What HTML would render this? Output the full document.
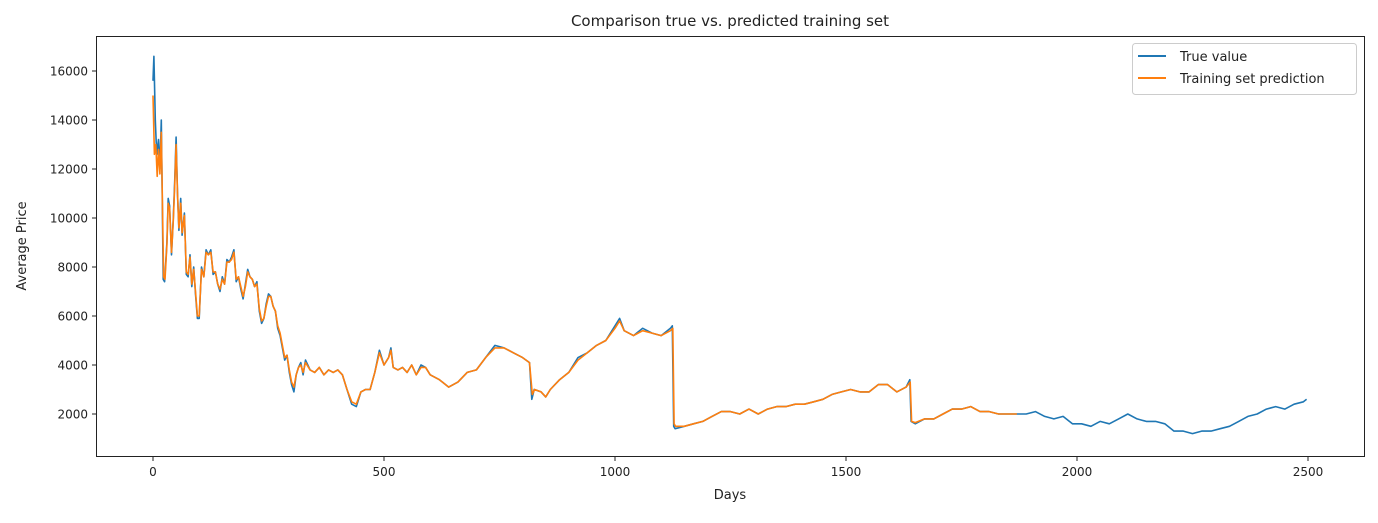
<!DOCTYPE html>
<html><head><meta charset="utf-8"><style>
body{margin:0;background:#fff;font-family:"Liberation Sans","DejaVu Sans",sans-serif}
svg text{font-family:"DejaVu Sans","Liberation Sans",sans-serif;fill:#222}
</style></head><body>
<svg id="chart" width="1378" height="518" viewBox="0 0 1378 518" xmlns="http://www.w3.org/2000/svg">
<text x="730" y="26" font-size="15" text-anchor="middle">Comparison true vs. predicted training set</text>
<g id="plot"></g>
<rect x="96.5" y="36.5" width="1268" height="420" fill="none" stroke="#222" stroke-width="1"/>
<text x="730" y="499" font-size="13" text-anchor="middle">Days</text>
<text transform="translate(26,246) rotate(-90)" font-size="13" text-anchor="middle">Average Price</text>
<g>
<rect x="1132.5" y="43.5" width="224" height="51" rx="3" fill="#fff" fill-opacity="0.8" stroke="#ccc"/>
<line x1="1138" y1="56" x2="1166" y2="56" stroke="#1f77b4" stroke-width="2"/>
<text x="1180" y="61" font-size="13">True value</text>
<line x1="1138" y1="78" x2="1166" y2="78" stroke="#ff7f0e" stroke-width="2"/>
<text x="1180" y="83" font-size="13">Training set prediction</text>
</g>
</svg>
<script>
const xTicks=[0,500,1000,1500,2000,2500];
const yTicks=[2000,4000,6000,8000,10000,12000,14000,16000];
const trueDays=[0,2,5,8,12,15,18,20,22,25,30,33,36,40,44,47,50,53,56,60,63,68,72,76,80,84,88,92,96,100,105,110,115,120,125,130,135,140,145,150,155,160,165,170,175,180,185,190,195,200,205,210,215,220,225,230,235,240,245,250,255,260,265,270,275,280,285,290,295,300,305,310,315,320,325,330,340,350,360,370,380,390,400,410,420,430,440,450,460,470,480,490,500,510,515,520,530,540,550,560,570,580,590,600,620,640,660,680,700,720,740,760,780,800,815,820,825,840,850,860,880,900,920,940,960,980,1000,1010,1020,1040,1060,1080,1100,1120,1124,1127,1130,1150,1170,1190,1210,1230,1250,1270,1290,1310,1330,1350,1370,1390,1410,1430,1450,1470,1490,1510,1530,1550,1570,1590,1610,1630,1638,1641,1650,1670,1690,1710,1730,1750,1770,1790,1810,1830,1850,1870,1890,1910,1930,1950,1970,1990,2010,2030,2050,2070,2090,2110,2130,2150,2170,2190,2210,2230,2250,2270,2290,2310,2330,2350,2370,2390,2410,2430,2450,2470,2490,2497];
const trueVals=[15600,16600,14000,12600,13200,12000,14000,11000,7500,7400,9000,10800,10500,8500,10000,11500,13300,11000,9500,10800,9300,10200,7700,7600,8500,7200,8000,6900,5900,5900,8000,7600,8700,8500,8700,7700,7800,7300,7000,7600,7300,8300,8200,8400,8700,7400,7600,7100,6700,7300,7900,7600,7500,7200,7400,6200,5700,5900,6500,6900,6800,6400,6200,5500,5200,4700,4200,4400,3700,3200,2900,3600,3900,4100,3600,4200,3800,3700,3900,3600,3800,3700,3800,3600,3000,2400,2300,2900,3000,3000,3700,4600,4000,4300,4700,3900,3800,3900,3700,4000,3600,4000,3900,3600,3400,3100,3300,3700,3800,4300,4800,4700,4500,4300,4100,2600,3000,2900,2700,3000,3400,3700,4300,4500,4800,5000,5600,5900,5400,5200,5500,5300,5200,5500,5600,1500,1400,1500,1600,1700,1900,2100,2100,2000,2200,2000,2200,2300,2300,2400,2400,2500,2600,2800,2900,3000,2900,2900,3200,3200,2900,3100,3400,1700,1600,1800,1800,2000,2200,2200,2300,2100,2100,2000,2000,2000,2000,2100,1900,1800,1900,1600,1600,1500,1700,1600,1800,2000,1800,1700,1700,1600,1300,1300,1200,1300,1300,1400,1500,1700,1900,2000,2200,2300,2200,2400,2500,2600];
const predDays=[0,3,6,9,12,15,18,20,23,26,30,33,36,40,44,47,50,53,56,60,63,68,72,76,80,84,88,92,96,100,105,110,115,120,125,130,135,140,145,150,155,160,165,170,175,180,185,190,195,200,205,210,215,220,225,230,235,240,245,250,255,260,265,270,275,280,285,290,295,300,305,310,315,320,325,330,340,350,360,370,380,390,400,410,420,430,440,450,460,470,480,490,500,510,515,520,530,540,550,560,570,580,590,600,620,640,660,680,700,720,740,760,780,800,815,821,826,840,850,860,880,900,920,940,960,980,1000,1010,1020,1040,1060,1080,1100,1120,1125,1128,1131,1150,1170,1190,1210,1230,1250,1270,1290,1310,1330,1350,1370,1390,1410,1430,1450,1470,1490,1510,1530,1550,1570,1590,1610,1630,1639,1642,1650,1670,1690,1710,1730,1750,1770,1790,1810,1830,1850,1870];
const predVals=[15000,12600,13000,11700,12800,11800,13500,11200,7600,7500,8900,10600,10400,8600,9900,11300,13000,11000,9600,10600,9400,10100,7800,7700,8400,7300,7900,7000,6000,6000,7900,7600,8600,8500,8600,7800,7800,7300,7100,7500,7300,8200,8200,8300,8600,7500,7600,7200,6800,7200,7800,7600,7500,7200,7300,6300,5800,5900,6400,6800,6800,6400,6200,5600,5300,4800,4300,4400,3800,3300,3100,3600,3900,4000,3700,4100,3800,3700,3900,3600,3800,3700,3800,3600,3000,2500,2400,2900,3000,3000,3700,4500,4000,4300,4600,3900,3800,3900,3700,4000,3600,3900,3900,3600,3400,3100,3300,3700,3800,4300,4700,4700,4500,4300,4100,2800,3000,2900,2700,3000,3400,3700,4200,4500,4800,5000,5500,5800,5400,5200,5400,5300,5200,5400,5500,1600,1500,1500,1600,1700,1900,2100,2100,2000,2200,2000,2200,2300,2300,2400,2400,2500,2600,2800,2900,3000,2900,2900,3200,3200,2900,3100,3300,1700,1650,1800,1800,2000,2200,2200,2300,2100,2100,2000,2000,2000];
const X0=153, XS=231/500, YB=414, YS=49/2000;
function xs(d){return X0+d*XS}
function ys(v){return YB-(v-2000)*YS}
const NS='http://www.w3.org/2000/svg';
const plot=document.getElementById('plot');
function mk(t,a){const e=document.createElementNS(NS,t);for(const k in a)e.setAttribute(k,a[k]);return e}
xTicks.forEach(t=>{
  const g=mk('g',{});
  
  
  g.appendChild(mk('line',{x1:xs(t),x2:xs(t),y1:456.5,y2:461,stroke:'#222'}));
  const tx=mk('text',{x:xs(t),y:476,'font-size':12,'text-anchor':'middle'});tx.textContent=t;g.appendChild(tx);
  plot.appendChild(g);
});
yTicks.forEach(t=>{
  const g=mk('g',{});
  
  
  g.appendChild(mk('line',{x1:92,x2:96.5,y1:ys(t),y2:ys(t),stroke:'#222'}));
  const tx=mk('text',{x:88,y:ys(t)+4.5,'font-size':12,'text-anchor':'end'});tx.textContent=t;g.appendChild(tx);
  plot.appendChild(g);
});
function line(days,vals,color){
  return mk('polyline',{points:days.map((d,i)=>xs(d).toFixed(1)+','+ys(vals[i]).toFixed(1)).join(' '),fill:'none',stroke:color,'stroke-width':1.6,'stroke-linejoin':'round'});
}
const l1=line(trueDays,trueVals,'#1f77b4');


plot.appendChild(l1);
const l2=line(predDays,predVals,'#ff7f0e');


plot.appendChild(l2);
</script>
</body></html>
